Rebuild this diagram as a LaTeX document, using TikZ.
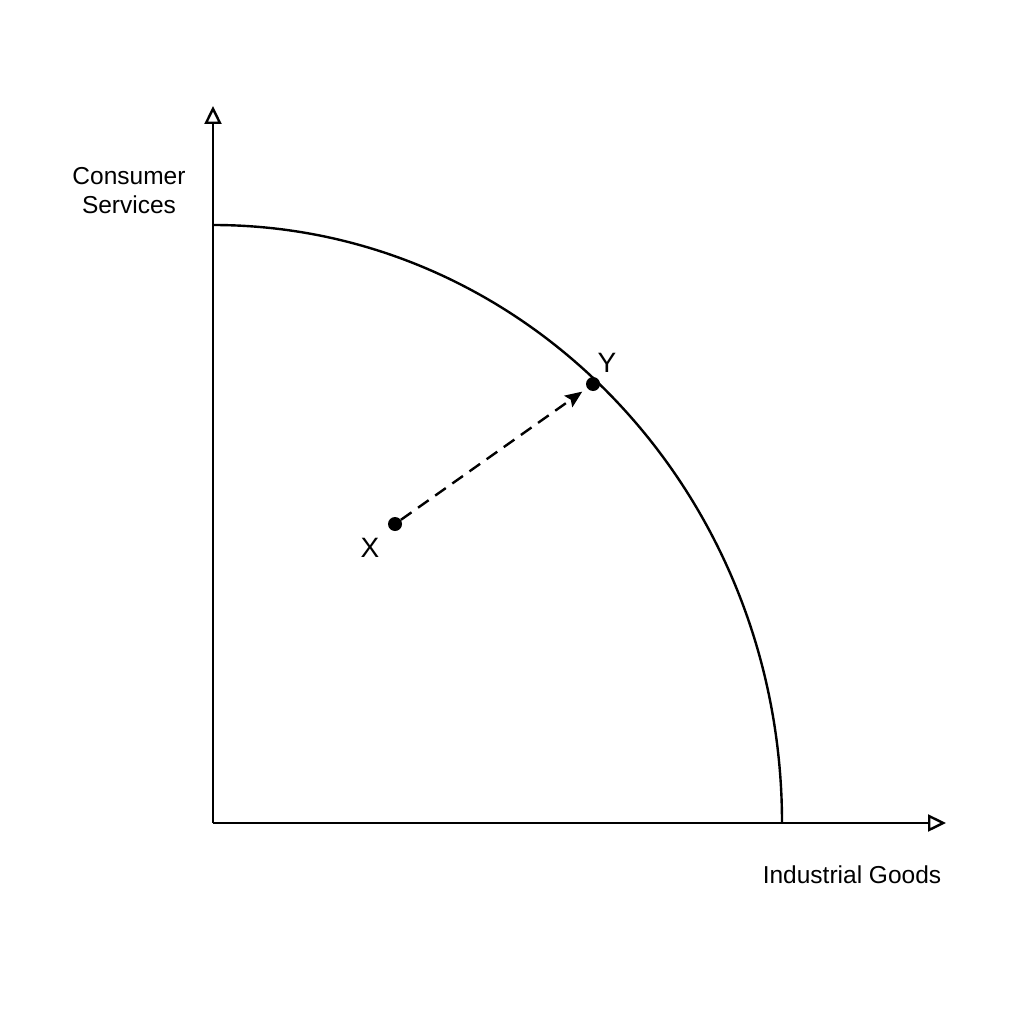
\documentclass[tikz,border=0pt]{standalone}
\usepackage{fontspec}
\setmainfont{Liberation Sans}
\usetikzlibrary{arrows.meta}
\begin{document}
\begin{tikzpicture}[x=1pt,y=-1pt,
  axis/.style={line width=2.4pt,-{Triangle[open,length=18pt,width=17pt,line width=2.4pt]}},
  curve/.style={line width=2.4pt},
  dot/.style={circle,fill=black,inner sep=0pt,minimum size=14pt},
  lbl/.style={font=\fontsize{24.5}{29}\selectfont,align=center,inner sep=0pt},
  ptlbl/.style={font=\fontsize{28}{32}\selectfont,inner sep=0pt},
  move/.style={line width=2.4pt,dash pattern=on 13pt off 8pt,shorten >=6pt,-{Stealth[length=17pt,width=14pt,inset=3pt]}}]
\useasboundingbox (0,0) rectangle (1024,1024);
\fill[white] (0,0) rectangle (1024,1024);
\coordinate (O) at (213,823);
\coordinate (ytop) at (213,106);
\coordinate (xend) at (946,823);
\draw[axis] (O) -- (ytop);
\draw[axis] (O) -- (xend);
\draw[curve] (213,225) arc[start angle=-90,end angle=0,x radius=569,y radius=598];
\node[dot] (X) at (395,524) {};
\node[dot] (Y) at (593,384) {};
\draw[move] (X) -- (Y);
\node[ptlbl] (Xl) at (370,548) {X};
\node[ptlbl] (Yl) at (607,363) {Y};
\node[lbl] (ylab) at (129,191) {Consumer\\Services};
\node[lbl] (xlab) at (852,875) {Industrial Goods};
\end{tikzpicture}
\end{document}
